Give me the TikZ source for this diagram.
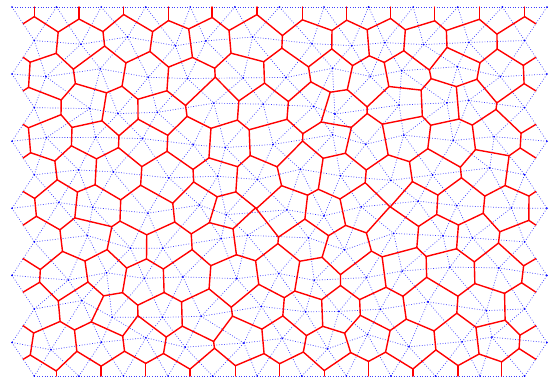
\documentclass[tikz,border=0pt]{standalone}
\usetikzlibrary{calc}
\tikzset{
  vor/.style={red, line width=1.4pt, line cap=round, line join=round},
  del/.style={blue!75, line width=0.7pt, dash pattern=on 0.8pt off 1.8pt},
  site/.style={blue},
}
\newcommand\cellx{44.58}
\newcommand\celly{33.55}
% cell corner of three sites (circumcentre pulled a little to the centroid),
% stored as coordinate c-<strip>-<index>
\newcommand\trivtx[8]{%
  \edef\tAx{\csname px#3-#4\endcsname}\edef\tAy{\csname py#3-#4\endcsname}%
  \edef\tBx{\csname px#5-#6\endcsname}\edef\tBy{\csname py#5-#6\endcsname}%
  \edef\tCx{\csname px#7-#8\endcsname}\edef\tCy{\csname py#7-#8\endcsname}%
  \pgfmathsetmacro\tbx{(\tBx-\tAx)/100}\pgfmathsetmacro\tby{(\tBy-\tAy)/100}%
  \pgfmathsetmacro\tcx{(\tCx-\tAx)/100}\pgfmathsetmacro\tcy{(\tCy-\tAy)/100}%
  \pgfmathsetmacro\tdd{2*(\tbx*\tcy-\tby*\tcx)}%
  \pgfmathsetmacro\tbb{\tbx*\tbx+\tby*\tby}%
  \pgfmathsetmacro\tcc{\tcx*\tcx+\tcy*\tcy}%
  \pgfmathsetmacro\tUx{\tAx+100*(0.82*(\tcy*\tbb-\tby*\tcc)/\tdd+0.06*(\tbx+\tcx))}%
  \pgfmathsetmacro\tUy{\tAy+100*(0.82*(\tbx*\tcc-\tcx*\tbb)/\tdd+0.06*(\tby+\tcy))}%
  \coordinate (c-#1-#2) at (\tUx,\tUy);%
}

\begin{document}
\begin{tikzpicture}[x=1pt,y=-1pt]
    \fill[white] (0,0) rectangle (552,379);
    \useasboundingbox (0,0) rectangle (552,379);
    \coordinate (top) at (0,7);
    \coordinate (bot) at (0,376);

    % sites: hexagonal rows, fixed on the border, jittered inside
    \pgfmathsetseed{9}
    \foreach \j in {0,...,11}{
        \pgfmathtruncatemacro\rowlast{12-mod(\j,2)}
        \foreach \i in {0,...,\rowlast}{
            \pgfmathsetmacro\isin{(\j>0)*(\j<11)*(\i>0)*(\i<\rowlast)}
            \pgfmathsetmacro\ptx{12+(\i+mod(\j,2)/2)*\cellx+\isin*12*rand}
            \pgfmathsetmacro\pty{7+\j*\celly+\isin*8.5*rand}
            \expandafter\xdef\csname px\j-\i\endcsname{\ptx}
            \expandafter\xdef\csname py\j-\i\endcsname{\pty}
            \coordinate (p-\j-\i) at (\ptx,\pty);
        }
    }

    % triangles of each strip and their cell corners
    \foreach \j in {0,...,10}{
        \pgfmathtruncatemacro\jn{\j+1}
        \foreach \k in {0,...,22}{
            \pgfmathtruncatemacro\m{floor(\k/2)}
            \pgfmathtruncatemacro\mn{\m+1}
            \ifodd\j\relax
                \ifodd\k\relax \trivtx{\j}{\k}{\j}{\m}{\j}{\mn}{\jn}{\mn}
                \else \trivtx{\j}{\k}{\jn}{\m}{\jn}{\mn}{\j}{\m}\fi
            \else
                \ifodd\k\relax \trivtx{\j}{\k}{\jn}{\m}{\jn}{\mn}{\j}{\mn}
                \else \trivtx{\j}{\k}{\j}{\m}{\j}{\mn}{\jn}{\m}\fi
            \fi
        }
    }

    % Delaunay edges
    \foreach \j in {0,...,11}{
        \pgfmathtruncatemacro\rowlast{11-mod(\j,2)}
        \foreach \i in {0,...,\rowlast}{
            \pgfmathtruncatemacro\inx{\i+1}
            \draw[del] (p-\j-\i) -- (p-\j-\inx);
        }
    }
    \foreach \j in {0,...,10}{
        \pgfmathtruncatemacro\jn{\j+1}
        \foreach \i in {0,...,11}{
            \pgfmathtruncatemacro\inx{\i+1}
            \draw[del] (p-\j-\i) -- (p-\jn-\i);
            \ifodd\j\relax \draw[del] (p-\j-\i) -- (p-\jn-\inx);
            \else \draw[del] (p-\jn-\i) -- (p-\j-\inx);\fi
        }
    }
    \foreach \j in {0,...,11}{
        \pgfmathtruncatemacro\rowlast{12-mod(\j,2)}
        \foreach \i in {0,...,\rowlast}
            \fill[site] (p-\j-\i) circle (0.9pt);
    }

    % Voronoi edges
    \foreach \j in {0,...,10}{
        \foreach \k in {0,...,21}{
            \pgfmathtruncatemacro\kn{\k+1}
            \draw[vor] (c-\j-\k) -- (c-\j-\kn);
        }
    }
    \foreach \r in {1,...,10}{
        \pgfmathtruncatemacro\rp{\r-1}
        \pgfmathtruncatemacro\mlast{11-mod(\r,2)}
        \foreach \m in {0,...,\mlast}{
            \pgfmathtruncatemacro\k{2*\m+mod(\r,2)}
            \draw[vor] (c-\rp-\k) -- (c-\r-\k);
        }
    }
    \foreach \k in {0,2,...,22}
        \draw[vor] (c-0-\k) -- (c-0-\k |- top);
    \foreach \k in {1,3,...,21}
        \draw[vor] (c-10-\k) -- (c-10-\k |- bot);
    \foreach \j in {0,...,10}{
        \pgfmathtruncatemacro\jn{\j+1}
        \pgfmathtruncatemacro\ra{12-mod(\j,2)}
        \pgfmathtruncatemacro\rb{11+mod(\j,2)}
        \draw[vor] (c-\j-0) -- ($(p-\j-0)!.5!(p-\jn-0)$);
        \draw[vor] (c-\j-22) -- ($(p-\j-\ra)!.5!(p-\jn-\rb)$);
    }
\end{tikzpicture}
\end{document}
